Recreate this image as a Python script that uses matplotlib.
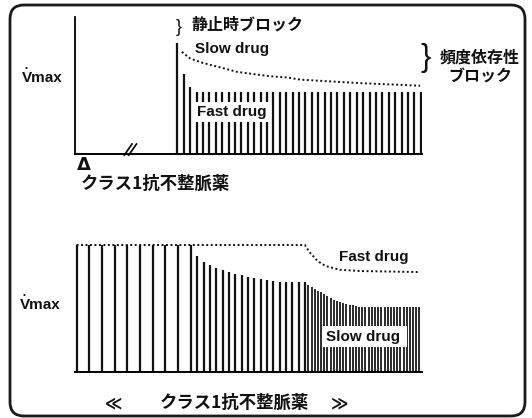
import matplotlib
matplotlib.use("Agg")

import matplotlib.pyplot as plt
import numpy as np
from matplotlib.patches import FancyBboxPatch

# ---- datos (Vmax relativo, tiempo en latidos) ----
# panel superior: bloqueo en reposo + bloqueo dependiente de frecuencia
top_t = np.arange(16, 55)
top_v = [1.0, 0.72, 0.60] + [0.56] * 36
slow_env_t = [16.7, 18.0, 20.0, 22.7, 25.3, 27.9, 30.5, 33.1, 35.2, 44.0, 53.9]
slow_env_v = [0.92, 0.86, 0.82, 0.78, 0.74, 0.72, 0.70, 0.69, 0.67, 0.64, 0.615]
break_t = 8.6

# panel inferior: tres frecuencias de estimulacion
lento_t = np.arange(0.25, 19, 2)
lento_v = [1.0] * 10
medio_t = np.arange(19.25, 36.3, 1)
medio_v = [0.91, 0.87, 0.84, 0.82, 0.80, 0.79, 0.77, 0.76, 0.75, 0.74,
           0.73, 0.725, 0.72, 0.71, 0.71, 0.71, 0.71, 0.71]
rapido_t = np.arange(36.75, 54.3, 0.5)
rapido_v = [0.685, 0.67, 0.655, 0.64, 0.63, 0.615, 0.60, 0.585, 0.57, 0.56,
            0.55, 0.545, 0.535, 0.53, 0.525, 0.52, 0.515] + [0.51] * 19
fast_env_t = [0.25, 36.2, 37.0, 38.1, 38.9, 39.8, 41.7, 44.9, 54.0]
fast_env_v = [1.0, 1.0, 0.94, 0.88, 0.85, 0.83, 0.805, 0.795, 0.787]

W, H = 532, 418
JP = "Noto Sans CJK JP"
EN = "Liberation Sans"
INK = "#111111"
DOTS = (0, (1, 1.3))


def px_rect(l, t, r, b):
    return [l / W, 1 - b / H, (r - l) / W, (b - t) / H]


fig = plt.figure(figsize=(W / 100, H / 100), dpi=100)
fig.patch.set_facecolor("white")

# Panel superior
ax1 = fig.add_axes(px_rect(75, 17, 422, 154))
ax1.vlines(top_t, 0, top_v, color=INK, lw=1.6)
ax1.plot(slow_env_t, slow_env_v, color=INK, lw=1.4, ls=DOTS)
ax1.plot([break_t - 0.9, break_t + 0.3], [-0.01, 0.09], color=INK, lw=1.3, clip_on=False)
ax1.plot([break_t - 0.2, break_t + 1.0], [-0.01, 0.09], color=INK, lw=1.3, clip_on=False)
ax1.set_xlim(0, 54.2)
ax1.set_ylim(0, 137 / 111)

# Panel inferior
ax2 = fig.add_axes(px_rect(75, 240, 422, 372))
ax2.vlines(lento_t, 0, lento_v, color=INK, lw=1.6)
ax2.vlines(medio_t, 0, medio_v, color=INK, lw=1.6)
ax2.vlines(rapido_t, 0, rapido_v, color=INK, lw=1.25)
ax2.plot(fast_env_t, fast_env_v, color=INK, lw=1.4, ls=DOTS)
ax2.set_xlim(0, 54.65)
ax2.set_ylim(0, 132 / 127)

for ax in (ax1, ax2):
    ax.set_xticks([])
    ax.set_yticks([])
    ax.patch.set_alpha(0)
    for s in ("top", "right"):
        ax.spines[s].set_visible(False)
    ax.spines["bottom"].set_linewidth(1.4)
    ax.spines["left"].set_linewidth(1.3)
ax2.spines["left"].set_visible(False)

# Capa de textos y marco
ov = fig.add_axes([0, 0, 1, 1])
ov.set_xlim(0, W)
ov.set_ylim(H, 0)
ov.axis("off")

ov.add_patch(FancyBboxPatch((10, 5), 515, 411, boxstyle="round,pad=0,rounding_size=14",
                            fc="none", ec="#1a1a1a", lw=2.0))

ov.text(176, 27, "}", family=EN, fontsize=13, ha="left", va="center", color=INK)
ov.text(192, 25, "静止時ブロック", family=JP, weight="bold", fontsize=11.5, ha="left", va="center", color=INK)
ov.text(195, 49.5, "Slow drug", family=EN, weight="bold", fontsize=11, ha="left", va="center", color=INK)
ov.text(197, 112, "Fast drug", family=EN, weight="bold", fontsize=11, ha="left", va="center", color=INK,
        bbox=dict(boxstyle="square,pad=0.2", fc="white", ec="none"))
ov.text(420, 58, "}", family=EN, fontsize=22, ha="left", va="center", color=INK)
ov.text(440, 57.5, "頻度依存性", family=JP, weight="bold", fontsize=11.5, ha="left", va="center", color=INK)
ov.text(448, 76.5, "ブロック", family=JP, weight="bold", fontsize=11.5, ha="left", va="center", color=INK)

ov.text(22, 77.5, "Vmax", family=EN, weight="bold", fontsize=11, ha="left", va="center", color=INK)
ov.text(26.5, 68.5, "•", family=EN, fontsize=6, ha="center", va="center", color=INK)
ov.text(84, 165, "Δ", family="DejaVu Sans", weight="bold", fontsize=13, ha="center", va="center", color=INK)
ov.text(81, 184, "クラス1抗不整脈薬", family=JP, weight="bold", fontsize=12.5, ha="left", va="center", color=INK)

ov.text(20, 305, "Vmax", family=EN, weight="bold", fontsize=11, ha="left", va="center", color=INK)
ov.text(24.5, 296, "•", family=EN, fontsize=6, ha="center", va="center", color=INK)
ov.text(339, 257, "Fast drug", family=EN, weight="bold", fontsize=11, ha="left", va="center", color=INK)
ov.text(326, 336.5, "Slow drug ", family=EN, weight="bold", fontsize=11, ha="left", va="center", color=INK,
        bbox=dict(boxstyle="square,pad=0.2", fc="white", ec="none"))

ov.text(113, 403, "≪", family="DejaVu Sans", weight="bold", fontsize=12, ha="center", va="center", color=INK)
ov.text(160, 403, "クラス1抗不整脈薬", family=JP, weight="bold", fontsize=12.5, ha="left", va="center", color=INK)
ov.text(339, 403, "≫", family="DejaVu Sans", weight="bold", fontsize=12, ha="center", va="center", color=INK)

fig.savefig("out.png", dpi=100, facecolor="white")
